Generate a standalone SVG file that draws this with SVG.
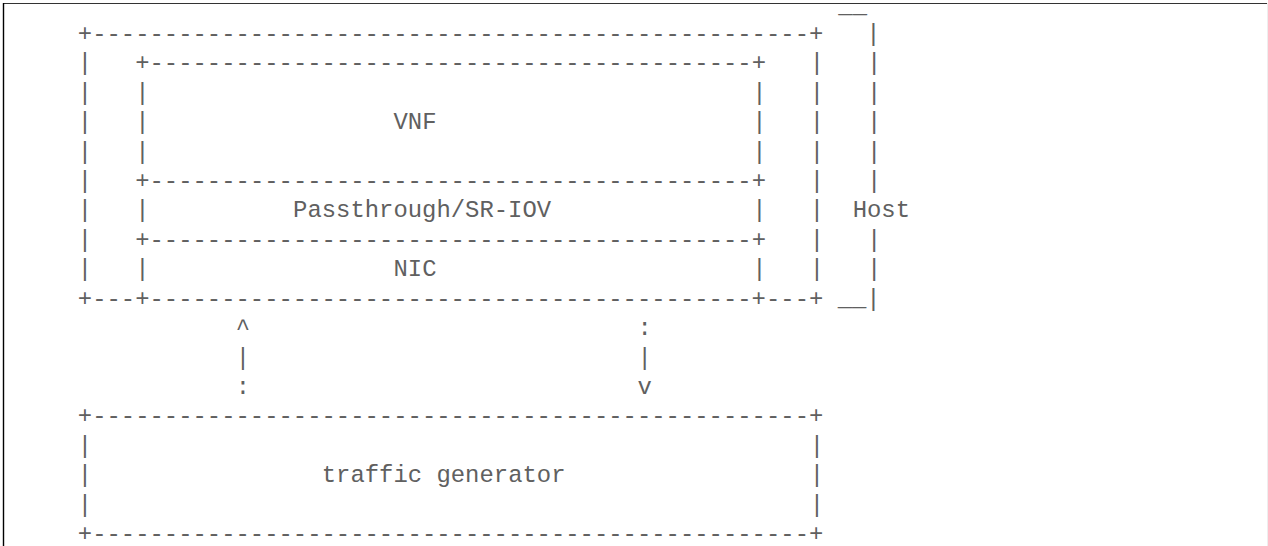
<svg xmlns="http://www.w3.org/2000/svg" width="1268" height="546" viewBox="0 0 1268 546">
<style>
text{font-family:"Liberation Mono","DejaVu Sans Mono",monospace;font-size:23.9px;fill:#606060;white-space:pre}
</style>
<rect width="1268" height="546" fill="#fff"/>
<g id="frame">
<line x1="3" y1="3.5" x2="1268" y2="3.5" stroke="#333" stroke-width="1.2"/>
<line x1="3.5" y1="3" x2="3.5" y2="546" stroke="#000" stroke-width="1.4"/>
<line x1="1267.5" y1="3" x2="1267.5" y2="546" stroke="#eee" stroke-width="1"/>
</g>
<g id="host">
<text x="838.35" y="12.5">__</text>
<text x="77.8" y="41">+--------------------------------------------------+   |</text>
<text x="77.8" y="70.41">|</text><text x="809.65" y="70.41">|   |</text>
<text x="77.8" y="99.82">|</text><text x="809.65" y="99.82">|   |</text>
<text x="77.8" y="129.23">|</text><text x="809.65" y="129.23">|   |</text>
<text x="77.8" y="158.64">|</text><text x="809.65" y="158.64">|   |</text>
<text x="77.8" y="188.05">|</text><text x="809.65" y="188.05">|   |</text>
<text x="77.8" y="217.46">|</text><text x="809.65" y="217.46">|  Host</text>
<text x="77.8" y="246.87">|</text><text x="809.65" y="246.87">|   |</text>
<text x="77.8" y="276.28">|</text><text x="809.65" y="276.28">|   |</text>
<text x="77.8" y="305.69">+---+------------------------------------------+---+ __|</text>
</g>
<g id="vnf">
<text x="135.2" y="70.41">+------------------------------------------+</text>
<text x="135.2" y="99.82">|</text><text x="752.25" y="99.82">|</text>
<text x="135.2" y="129.23">|</text><text x="393.5" y="129.23">VNF</text><text x="752.25" y="129.23">|</text>
<text x="135.2" y="158.64">|</text><text x="752.25" y="158.64">|</text>
<text x="135.2" y="188.05">+------------------------------------------+</text>
</g>
<g id="passthrough">
<text x="135.2" y="217.46">|</text><text x="293.05" y="217.46">Passthrough/SR-IOV</text><text x="752.25" y="217.46">|</text>
<text x="135.2" y="246.87">+------------------------------------------+</text>
</g>
<g id="nic">
<text x="135.2" y="276.28">|</text><text x="393.5" y="276.28">NIC</text><text x="752.25" y="276.28">|</text>
</g>
<g id="connectors">
<text x="235.65" y="335.1">^</text><text x="637.45" y="335.1">:</text>
<text x="235.65" y="364.51">|</text><text x="637.45" y="364.51">|</text>
<text x="235.65" y="393.92">:</text><text x="637.45" y="393.92">v</text>
</g>
<g id="traffic-generator">
<text x="77.8" y="423.33">+--------------------------------------------------+</text>
<text x="77.8" y="452.74">|</text><text x="809.65" y="452.74">|</text>
<text x="77.8" y="482.15">|</text><text x="321.75" y="482.15">traffic generator</text><text x="809.65" y="482.15">|</text>
<text x="77.8" y="511.56">|</text><text x="809.65" y="511.56">|</text>
<text x="77.8" y="540.97">+--------------------------------------------------+</text>
</g>
</svg>
